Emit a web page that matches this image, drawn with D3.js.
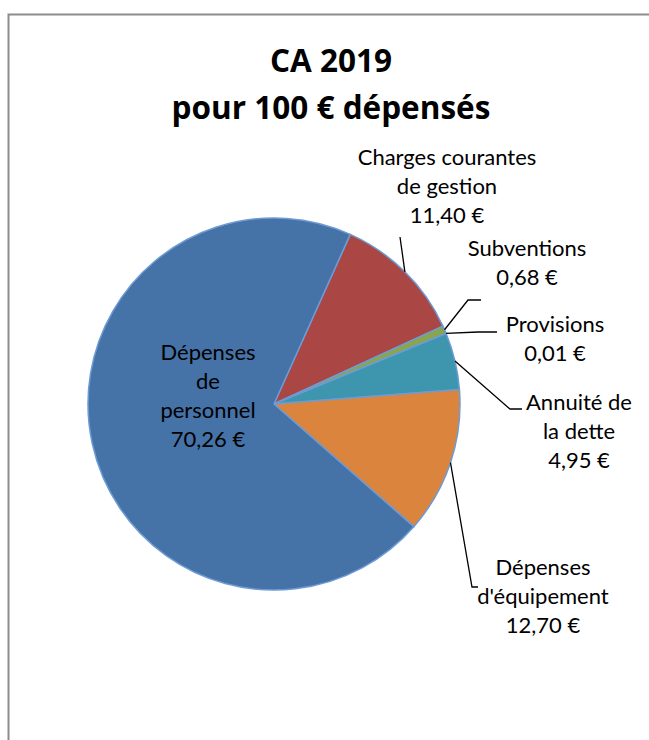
<!DOCTYPE html>
<html>
<head>
<meta charset="utf-8">
<script src="https://cdn.jsdelivr.net/npm/d3@7"></script>
<style>
  body { margin: 0; background: #fff; }
  svg { display: block; }
  text { font-family: Lato, "Open Sans", sans-serif; fill: #000; }
</style>
</head>
<body>
<div id="chart"></div>
<script>
// chart data, in clockwise order starting from "Charges courantes"
const categories = ["Charges courantes de gestion", "Subventions", "Provisions", "Annuité de la dette", "Dépenses d'équipement", "Dépenses de personnel"];
const values = [11.40, 0.68, 0.01, 4.95, 12.70, 70.26];
const valueLabels = ["11,40 €", "0,68 €", "0,01 €", "4,95 €", "12,70 €", "70,26 €"];
const labelLines = [
  ["Charges courantes", "de gestion"],
  ["Subventions"],
  ["Provisions"],
  ["Annuité de", "la dette"],
  ["Dépenses", "d'équipement"],
  ["Dépenses", "de", "personnel"]
];
const titleLines = ["CA 2019", "pour 100 € dépensés"];

const colors = ["#AA4643", "#89A54E", "#80699B", "#3D96AE", "#DB843D", "#4572A7"];

// label layout : centre x, baseline of first row, leader line (elbow, end)
const labelLayout = [
  {x: 447, y: 165, line: [[400, 237]]},
  {x: 527, y: 256, line: [[468, 300], [481, 300]]},
  {x: 555, y: 332, line: [[478, 332], [497, 332]]},
  {x: 579, y: 410, line: [[510, 409], [522, 409]]},
  {x: 543, y: 575, line: [[472, 587], [478, 587]]},
  {x: 208, y: 360, line: null}
];

const width = 649, height = 740;
const cx = 274, cy = 404, radius = 186;
const lineH = 29;

const svg = d3.select("#chart")
  .append("svg")
    .attr("width", width)
    .attr("height", height);

// chart frame
svg.append("rect")
  .attr("x", 8.5)
  .attr("y", 14.5)
  .attr("width", 700)
  .attr("height", 800)
  .attr("fill", "#fff")
  .attr("stroke", "#8c8c8c")
  .attr("stroke-width", 2);

// title
svg.append("g")
  .selectAll("text")
  .data(titleLines)
  .join("text")
    .attr("x", 331)
    .attr("y", (d, i) => 72 + i * 47)
    .attr("text-anchor", "middle")
    .style("font-family", "'Open Sans', sans-serif")
    .style("font-size", "31.5px")
    .style("font-weight", "bold")
    .text(d => d);

const pie = d3.pie()
  .sort(null)
  .startAngle(24.2 * Math.PI / 180)
  .endAngle(24.2 * Math.PI / 180 + 2 * Math.PI);

const arcs = pie(values);

const arc = d3.arc()
  .innerRadius(0)
  .outerRadius(radius);

const g = svg.append("g")
  .attr("transform", `translate(${cx},${cy})`);

g.selectAll("path")
  .data(arcs)
  .join("path")
    .attr("d", arc)
    .attr("fill", (d, i) => colors[i])
    .attr("stroke", "#6d9bd4")
    .attr("stroke-width", 1.5)
    .attr("stroke-linejoin", "round");

// leader lines from the middle of each slice edge
const lines = svg.append("g");
arcs.forEach((d, i) => {
  const lay = labelLayout[i];
  if (!lay.line) return;
  const a = (d.startAngle + d.endAngle) / 2;
  const start = [cx + radius * Math.sin(a), cy - radius * Math.cos(a)];
  lines.append("path")
    .attr("d", d3.line()([start, ...lay.line]))
    .attr("fill", "none")
    .attr("stroke", "#000")
    .attr("stroke-width", 1.3);
});

// labels
const labels = svg.append("g");
arcs.forEach((d, i) => {
  const lay = labelLayout[i];
  const rows = labelLines[i].concat([valueLabels[i]]);
  labels.append("text")
    .attr("text-anchor", "middle")
    .style("font-size", "22px")
    .selectAll("tspan")
    .data(rows)
    .join("tspan")
      .attr("x", lay.x)
      .attr("y", (r, k) => lay.y + k * lineH)
      .text(r => r);
});
</script>
</body>
</html>
